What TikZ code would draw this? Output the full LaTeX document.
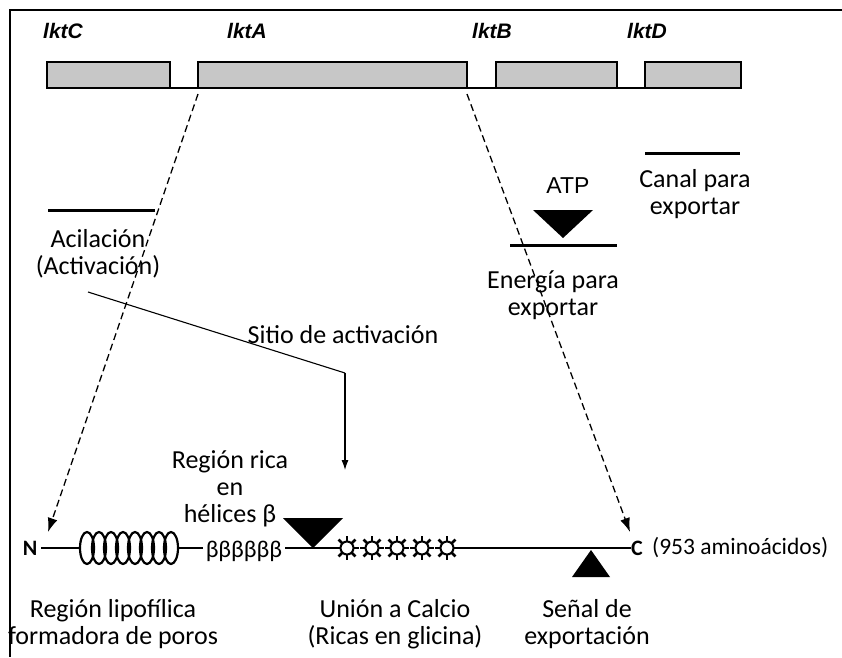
\documentclass[tikz,border=0pt]{standalone}
\usepackage{fontspec}
\setmainfont{Carlito}
\newfontfamily\arialfont{Liberation Sans}
\usetikzlibrary{arrows.meta}

\tikzset{
  genebox/.style={draw=black, line width=1.3pt, fill=black!22},
  genelbl/.style={font=\arialfont\bfseries\itshape\fontsize{21}{24}\selectfont, inner sep=0pt},
  lbl/.style={font=\fontsize{26}{27}\selectfont, align=center, inner sep=0pt},
  bar/.style={line width=3pt},
  dashlink/.style={dash pattern=on 7pt off 4pt, line width=1.3pt, -{Latex[length=14pt,width=10pt]}},
  prot/.style={line width=2.4pt},
}

\begin{document}
\begin{tikzpicture}[x=1pt,y=-1pt]
\useasboundingbox (0,0) rectangle (842,657);

% frame
\draw[line width=1.6pt] (842,10) -- (10,10) -- (10,657);

% genes
\node[genelbl] (lC) at (63,31) {lktC};
\node[genelbl] (lA) at (247,31) {lktA};
\node[genelbl] (lB) at (492,31) {lktB};
\node[genelbl] (lD) at (647,31) {lktD};

\draw[genebox] (47,62) rectangle (170,88);
\draw[genebox] (198,62) rectangle (467,88);
\draw[genebox] (496,62) rectangle (617,88);
\draw[genebox] (645,62) rectangle (741,88);
\draw[line width=2.5pt] (170,88) -- (198,88);
\draw[line width=2.5pt] (467,88) -- (496,88);
\draw[line width=2.5pt] (617,88) -- (645,88);

\coordinate (Astart) at (198,94);
\coordinate (Bstart) at (467,94);

% functions
\draw[bar] (48,210) -- (155,210);
\node[lbl] (acil) at (98,254) {Acilación\\(Activación)};

\node[font=\arialfont\fontsize{23}{26}\selectfont, inner sep=0pt] (atp) at (568,186) {ATP};
\fill (533,210) -- (593,210) -- (563,238) -- cycle;
\draw[bar] (510,245) -- (617,245);
\node[lbl] (energ) at (553,295) {Energía para\\exportar};

\draw[bar] (645,153) -- (740,153);
\node[lbl] (canal) at (695,194) {Canal para\\exportar};

% activation site
\coordinate (Sa) at (88,292);
\coordinate (Sb) at (345,373);
\coordinate (Sc) at (345,470);
\draw[line width=1.1pt] (Sa) -- (Sb);
\draw[line width=1.1pt, -{Latex[length=10pt,width=7pt]}] (Sb) -- (Sc);
\node[lbl] (sitio) at (343,335) {Sitio de activación};

\node[lbl] (rica) at (230,489) {Región rica\\en\\hélices β};

% protein
\node[font=\bfseries\fontsize{22}{24}\selectfont, inner sep=0pt] (N) at (30,548) {N};
\node[font=\bfseries\fontsize{22}{24}\selectfont, inner sep=0pt, anchor=west] (C) at (631,548) {C};
\node[font=\fontsize{23.5}{25}\selectfont, inner sep=0pt, anchor=west] (aa) at (652,548) {(953 aminoácidos)};

\draw[prot] (N.east) ++(4,0) -- (79,548);
\foreach \i in {0,...,7}
  \draw[line width=2.2pt] (87+\i*12,548) ellipse (7 and 16);
\draw[prot] (178,548) -- (203,548);
\node[font=\fontsize{24}{26}\selectfont, inner sep=0pt] (beta) at (244,551) {ββββββ};
\draw[prot] (285,548) -- (336,548);
\foreach \i in {0,...,4} {
  \draw[line width=2pt, fill=white] (347+\i*25,548) circle (6.5);
  \foreach \a in {0,45,...,315}
    \draw[line width=2.6pt] (347+\i*25,548) ++(\a:6.5) -- ++(\a:5.5);
}
\draw[prot] (459,548) -- (C.west);

\fill (283,518) -- (343,518) -- (313,548) -- cycle;
\fill (572,577) -- (610,577) -- (591,550) -- cycle;

\coordinate (Nend) at (48,532);
\coordinate (Cend) at (630,532);
\draw[dashlink] (Astart) -- (Nend);
\draw[dashlink] (Bstart) -- (Cend);

\node[lbl] (lipo) at (113,624) {Región lipofílica\\formadora de poros};
\node[lbl] (calc) at (395,624) {Unión a Calcio\\(Ricas en glicina)};
\node[lbl] (senal) at (587,624) {Señal de\\exportación};

\end{tikzpicture}
\end{document}
